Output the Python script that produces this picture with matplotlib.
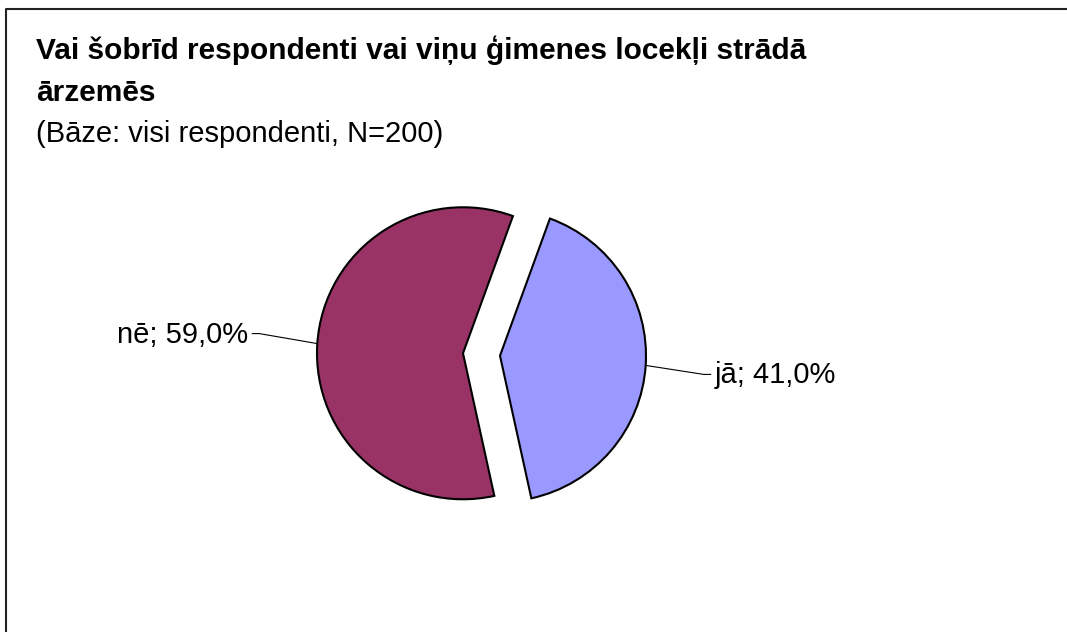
"""Pie chart: do respondents or their family members work abroad."""

import numpy as np
import matplotlib.pyplot as plt
from matplotlib.lines import Line2D

W, H = 1067, 632

labels = ["jā", "nē"]
shares = [41.0, 59.0]
colors = ["#9999FF", "#993366"]

title_lines = ["Vai šobrīd respondenti vai viņu ģimenes locekļi strādā", "ārzemēs"]
subtitle = "(Bāze: visi respondenti, N=200)"

plt.rcParams["font.family"] = ["Liberation Sans", "DejaVu Sans"]

fig = plt.figure(figsize=(W / 100, H / 100), dpi=100, facecolor="white")

# left + top border of the chart area (right/bottom run off the image)
fig.add_artist(Line2D([6 / W, 6 / W, 1.0], [0.0, 1 - 9 / H, 1 - 9 / H],
                      transform=fig.transFigure, color="#222222", lw=1.5))

for line, base in zip(title_lines, [59, 101]):
    fig.text(36 / W, 1 - base / H, line, fontsize=21.5, fontweight="bold",
             va="baseline", ha="left")
fig.text(36 / W, 1 - 142 / H, subtitle, fontsize=21, va="baseline", ha="left")

# axes in pixel units, y pointing up
ax = fig.add_axes([0, 0, 1, 1])
cx, cy, radius = 481.5, H - 354.5, 146
explode = [0.127 * radius] * 2   # pie() takes explode in data units
wedges, _ = ax.pie(shares, colors=colors, startangle=70, counterclock=False,
                   explode=explode, center=(cx, cy), radius=radius,
                   wedgeprops=dict(edgecolor="black", linewidth=1.5))
ax.set_xlim(0, W)
ax.set_ylim(0, H)
ax.set_aspect("equal")
ax.axis("off")

# leader lines + labels
for wedge, lab, val in zip(wedges, labels, shares):
    mid = np.deg2rad((wedge.theta1 + wedge.theta2) / 2)
    wx, wy = wedge.center
    px = wx + wedge.r * np.cos(mid)
    py = wy + wedge.r * np.sin(mid)
    side = 1 if np.cos(mid) > 0 else -1
    kx = px + side * 58
    ky = py - 9 if side > 0 else py + 10
    ex = kx + side * 7
    ax.plot([px, kx, ex], [py, ky, ky], color="black", lw=0.8)
    txt = f"{lab}; {val:.1f}%".replace(".", ",")
    ax.text(ex + side * 4, ky - 1, txt, fontsize=21,
            ha="left" if side > 0 else "right", va="center")

fig.savefig("out.png", dpi=100, facecolor="white")
plt.close(fig)
